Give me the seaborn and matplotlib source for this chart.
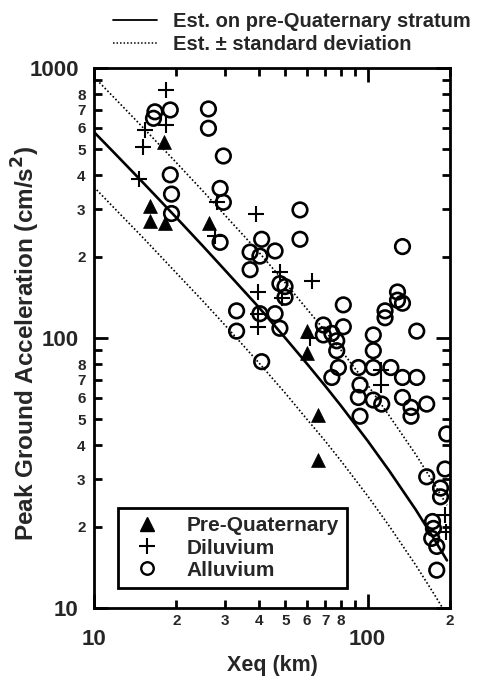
import matplotlib
matplotlib.use("Agg")
import matplotlib.pyplot as plt
import matplotlib.ticker as mticker
from matplotlib.lines import Line2D
import seaborn as sns
import pandas as pd

# ---------------- data ----------------
# estimated curves
line_x = [10, 12, 15, 20, 25, 30, 40, 50, 60, 70, 80, 100, 120, 150, 175, 195]
est_mean = [579, 479, 379, 279, 219, 179, 130, 100, 80.3, 66.4, 56.0, 41.6, 32.2, 23.1, 18.0, 15.0]
est_upper = [926, 766, 606, 446, 350, 286, 208, 160, 128, 106, 90, 67, 51.5, 37, 28.8, 24]
est_lower = [362, 299, 237, 174, 137, 112, 81, 62.5, 50, 41.5, 35, 26, 20.1, 14.4, 11.25, 9.4]

# Pre-Quaternary
preq_x = [16.0, 16.0, 18.2, 18.0, 26.4, 59.9, 59.9, 66.0, 66.0]
preq_y = [307, 270, 266, 533, 266, 106, 88, 52, 35.3]

# Diluvium
dil_x = [18.4, 18.4, 15.4, 15.1, 14.6, 28.1, 39.1, 27.7, 47.8, 39.9, 39.6, 39.6,
         48.5, 62.5, 61.6, 112, 112, 191, 194]
dil_y = [829, 615, 589, 511, 389, 318, 289, 239, 176, 148, 123, 110,
         141, 163, 100, 76.1, 67, 22.1, 19.1]

# Alluvium
all_x = [16.7, 16.5, 19.0, 26.2, 26.2, 29.7, 19.0, 19.2, 19.2, 28.9, 29.7, 28.9,
         41.0, 37.2, 45.9, 37.2, 40.4, 56.6, 56.6, 47.8, 49.9, 49.9,
         33.2, 33.2, 41.0, 45.9, 47.8, 40.4, 68.9, 74.0, 68.9, 81.5, 81.5,
         77.1, 77.1, 78.2, 74.0, 92.5, 93.8, 92.5, 93.8, 104.9, 104.9, 104.9,
         104.9, 112.6, 121.6, 134.1, 151.2, 134.1, 144.1, 144.1, 164.4, 151.2,
         128.6, 128.6, 134.1, 115.8, 115.8, 134.1, 194.6, 164.4, 191.8, 184.7,
         184.7, 172.7, 174.0, 171.5, 178.9, 178.9]
all_y = [688, 651, 699, 705, 598, 472, 402, 341, 289, 358, 318, 226,
         232, 208, 210, 179, 201, 298, 232, 159, 155, 141.5,
         126, 106, 81.7, 123, 108.6, 123, 111.7, 104, 102.6, 132.6, 110,
         97.6, 89.7, 77.7, 71.4, 77.7, 67, 60.2, 51.3, 102.6, 89.7, 77.7,
         58.9, 56.9, 77.7, 71.4, 71.4, 60.2, 55.3, 51.3, 56.9, 106,
         148, 138, 134.5, 126, 118.8, 218, 44.1, 30.6, 32.7, 27.8,
         25.8, 20.9, 19.7, 18.1, 16.9, 13.8]

x_major = [10, 100]
x_major_labels = ["10", "100"]
x_minor = [20, 30, 40, 50, 60, 70, 80, 90, 200]
x_minor_labels = ["2", "3", "4", "5", "6", "7", "8", "", "2"]
y_major = [10, 100, 1000]
y_major_labels = ["10", "100", "1000"]
y_minor = [20, 30, 40, 50, 60, 70, 80, 90, 200, 300, 400, 500, 600, 700, 800, 900]
y_minor_labels = ["2", "3", "4", "5", "6", "7", "8", "", "2", "3", "4", "5", "6", "7", "8", ""]

# ---------------- style ----------------
sns.set_style("ticks")
plt.rcParams["font.family"] = ["Liberation Sans", "DejaVu Sans"]
plt.rcParams["axes.linewidth"] = 2.0

fig = plt.figure(figsize=(4.86, 6.77), dpi=100)
ax = fig.add_axes([0.1934, 0.102, 0.7325, 0.7976])

lines_df = pd.DataFrame({"x": line_x, "mean": est_mean, "up": est_upper, "lo": est_lower})
sns.lineplot(data=lines_df, x="x", y="mean", ax=ax, color="black", lw=1.9, sort=True)
sns.lineplot(data=lines_df, x="x", y="up", ax=ax, color="black", lw=1.2,
             linestyle=(0, (1, 1.3)))
sns.lineplot(data=lines_df, x="x", y="lo", ax=ax, color="black", lw=1.2,
             linestyle=(0, (1, 1.3)))

sns.scatterplot(x=all_x, y=all_y, ax=ax, marker="o", s=110, facecolor="none",
                edgecolor="black", linewidth=1.9, zorder=3)
sns.scatterplot(x=dil_x, y=dil_y, ax=ax, marker="+", s=140, color="black",
                linewidth=1.5, zorder=3)
sns.scatterplot(x=preq_x, y=preq_y, ax=ax, marker="^", s=100, color="black",
                edgecolor="black", linewidth=0.5, zorder=4)

ax.set_xscale("log")
ax.set_yscale("log")
ax.set_xlim(10, 200)
ax.set_ylim(10, 1000)

ax.xaxis.set_major_locator(mticker.FixedLocator(x_major))
ax.xaxis.set_major_formatter(mticker.FixedFormatter(x_major_labels))
ax.xaxis.set_minor_locator(mticker.FixedLocator(x_minor))
ax.xaxis.set_minor_formatter(mticker.FixedFormatter(x_minor_labels))
ax.yaxis.set_major_locator(mticker.FixedLocator(y_major))
ax.yaxis.set_major_formatter(mticker.FixedFormatter(y_major_labels))
ax.yaxis.set_minor_locator(mticker.FixedLocator(y_minor))
ax.yaxis.set_minor_formatter(mticker.FixedFormatter(y_minor_labels))

ax.tick_params(which="both", direction="in", top=True, right=True, width=2, color="black")
ax.tick_params(which="major", length=10, labelsize=16)
ax.tick_params(which="minor", length=6, labelsize=11)
ax.tick_params(axis="x", which="major", pad=15)
ax.tick_params(axis="x", which="minor", pad=4)
ax.tick_params(axis="y", which="major", pad=11)
ax.tick_params(axis="y", which="minor", pad=6)
for lab in (ax.xaxis.get_minorticklabels() + ax.yaxis.get_minorticklabels()
            + ax.xaxis.get_majorticklabels() + ax.yaxis.get_majorticklabels()):
    lab.set_fontweight("bold")
for sp in ax.spines.values():
    sp.set_visible(True)
    sp.set_color("black")

ax.set_xlabel("Xeq (km)", fontsize=15.5, fontweight="bold", labelpad=4)
ax.set_ylabel("Peak Ground Acceleration (cm/s$^\\mathbf{2}$)", fontsize=17.5,
              fontweight="bold")
ax.yaxis.set_label_coords(-0.145, 0.49)

# legend for estimates (top, outside)
h_mean = Line2D([], [], color="black", lw=1.3)
h_sd = Line2D([], [], color="black", lw=1.1, linestyle=(0, (1, 1.3)))
fig.legend([h_mean, h_sd], ["Est. on pre-Quaternary stratum", "Est. \u00b1 standard deviation"],
           loc="upper left", bbox_to_anchor=(0.2325, 0.982), frameon=False,
           prop={"size": 14.5, "weight": "bold"}, handlelength=2.2, handletextpad=0.8,
           labelspacing=0.2, borderpad=0, borderaxespad=0)

# legend for data
hs = [Line2D([], [], marker="^", color="black", ls="none", markersize=10),
      Line2D([], [], marker="+", color="black", ls="none", markersize=11, mew=1.5),
      Line2D([], [], marker="o", color="black", mfc="none", ls="none", markersize=9, mew=1.7)]
leg = ax.legend(hs, ["Pre-Quaternary", "Diluvium", "Alluvium"], loc="lower left",
                bbox_to_anchor=(0.0674, 0.037), borderaxespad=0,
                prop={"size": 15, "weight": "bold"},
                frameon=True, fancybox=False, framealpha=1, edgecolor="black",
                handletextpad=0.9, labelspacing=0.15, borderpad=0.4)
leg.get_frame().set_linewidth(2)

fig.savefig("out.png", dpi=100)
